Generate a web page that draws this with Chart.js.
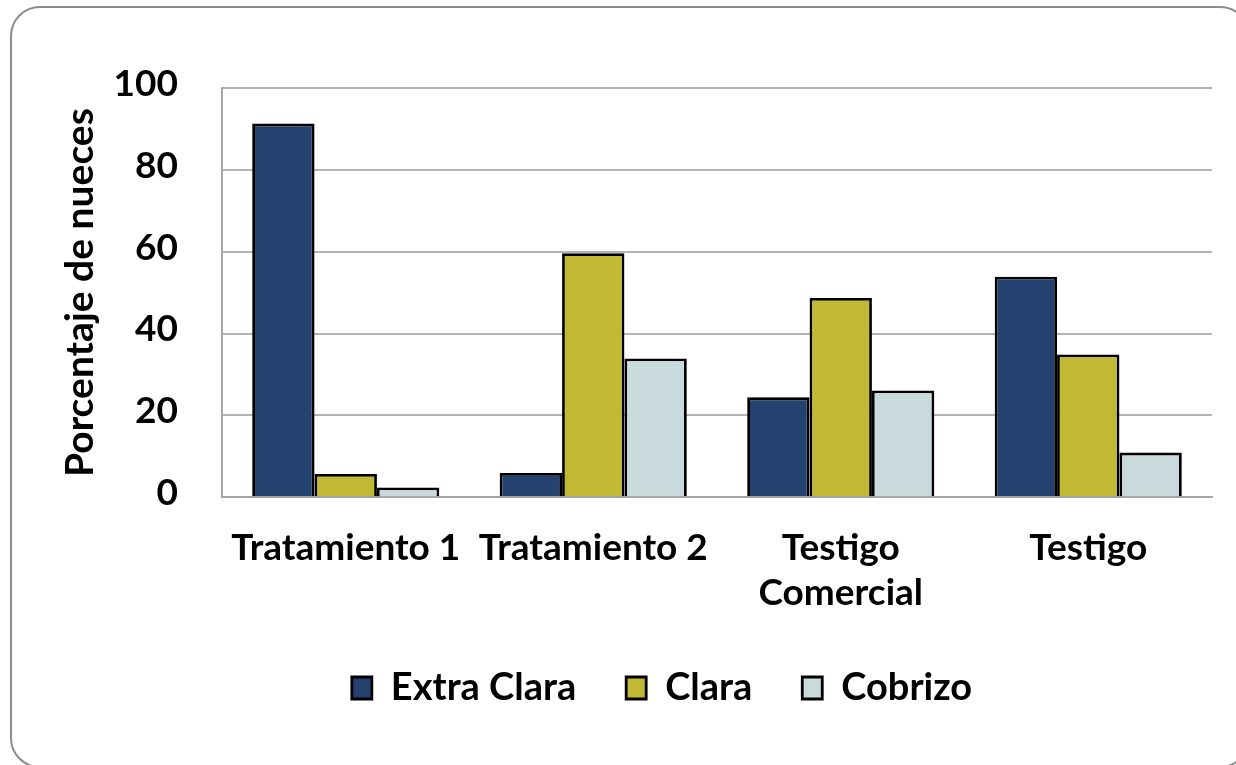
<!DOCTYPE html>
<html>
<head>
<meta charset="utf-8">
<script src="https://cdn.jsdelivr.net/npm/chart.js@4/dist/chart.umd.min.js"></script>
<style>
  html, body { margin: 0; padding: 0; background: #fff; overflow: hidden; }
  #wrap { position: relative; width: 1236px; height: 765px; }
  #frame {
    position: absolute; left: 10px; top: 6px; width: 1240px; height: 762px;
    border: 2px solid #8c8c8c; border-radius: 30px; box-sizing: border-box;
  }
  canvas { position: absolute; left: 0; top: 0; }
</style>
</head>
<body>
<div id="wrap">
  <div id="frame"></div>
  <canvas id="myChart" width="1236" height="765"></canvas>
</div>
<script>
const categories = ["Tratamiento 1", "Tratamiento 2", ["Testigo", "Comercial"], "Testigo"];
const extraClara = [91.3, 5.9, 24.4, 53.9];
const clara = [5.7, 59.6, 48.7, 34.9];
const cobrizo = [2.4, 33.9, 26.1, 10.9];
const yTicks = [0, 20, 40, 60, 80, 100];

const fontFamily = "Lato, 'Open Sans', sans-serif";
const padLeft = 112;

function chartNueces() {
  const graphData = {
    labels: categories,
    datasets: [
      { label: "Extra Clara", data: extraClara, backgroundColor: "#24426f", borderColor: "#000", borderWidth: 2.8 },
      { label: "Clara", data: clara, backgroundColor: "#c1b934", borderColor: "#000", borderWidth: 2.8 },
      { label: "Cobrizo", data: cobrizo, backgroundColor: "#c8dadb", borderColor: "#000", borderWidth: 2.8 }
    ]
  };

  const ctx = document.getElementById("myChart").getContext("2d");

  new Chart(ctx, {
    type: "bar",
    data: graphData,
    options: {
      responsive: false,
      animation: false,
      layout: { padding: { left: padLeft, right: 24, top: 88, bottom: 48 } },
      datasets: { bar: { categoryPercentage: 0.756, barPercentage: 1.0, borderSkipped: "bottom" } },
      plugins: {
        tooltip: { enabled: false },
        legend: {
          position: "bottom",
          labels: {
            color: "#000",
            font: { family: fontFamily, size: 38, weight: "bold" },
            boxWidth: 20,
            boxHeight: 22,
            padding: 50
          }
        }
      },
      scales: {
        x: {
          afterFit: scale => { scale.height -= 25; },
          grid: { display: false, drawTicks: false },
          border: { display: true, color: "#a6a6a6", width: 2 },
          ticks: {
            color: "#000",
            padding: 29,
            maxRotation: 0,
            autoSkip: false,
            font: { family: fontFamily, size: 37, weight: "bold", lineHeight: 1.2 }
          }
        },
        y: {
          min: 0,
          max: 100,
          afterBuildTicks: scale => { scale.ticks = yTicks.map(v => ({ value: v })); },
          afterFit: scale => { scale.width = 222 - padLeft; },
          grid: { color: "#b4b4b4", lineWidth: 2, drawTicks: false },
          border: { display: true, color: "#a6a6a6", width: 2 },
          ticks: {
            color: "#000",
            padding: 44,
            labelOffset: -4,
            font: { family: fontFamily, size: 37, weight: "bold" }
          },
          title: {
            display: true,
            text: "Porcentaje de nueces",
            color: "#000",
            padding: { top: 57 - padLeft, bottom: 0 },
            font: { family: fontFamily, size: 39, weight: "bold" }
          }
        }
      }
    }
  });
}

document.addEventListener("DOMContentLoaded", function() {
  chartNueces();
});
</script>
</body>
</html>
